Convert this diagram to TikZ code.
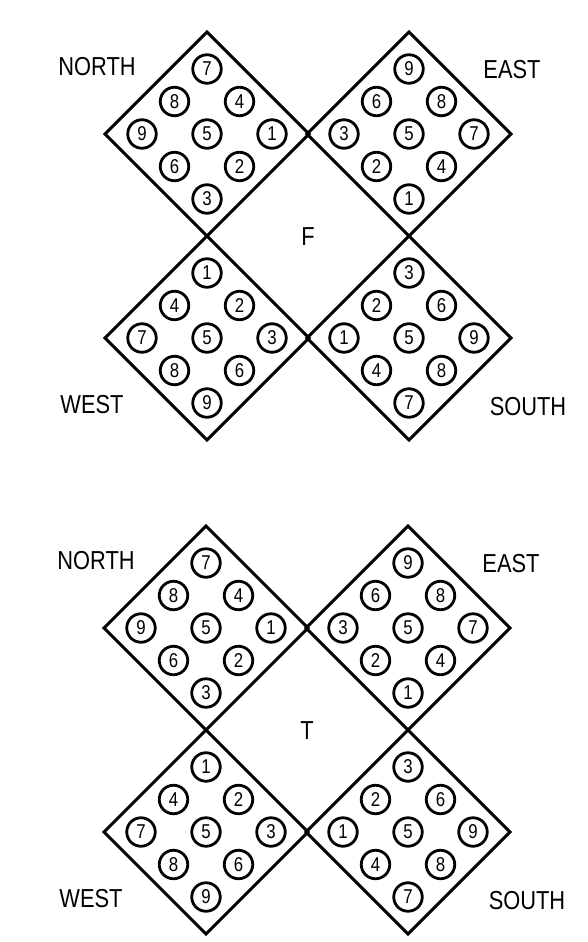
\documentclass[tikz,border=0pt]{standalone}
\usepackage{fontspec}
\setmainfont{Liberation Sans}[FakeStretch=0.84]
\usepackage{tikz}
\tikzset{
	ball/.style={circle,draw,line width=2.8pt,minimum size=28.5pt,inner sep=0pt,font=\fontsize{20}{20}\selectfont},
	sidelabel/.style={inner sep=0pt,font=\fontsize{26}{26}\selectfont},
	plate/.style={draw,line width=3pt,line join=miter}
}

\begin{document}
\begin{tikzpicture}[x=1pt,y=-1pt]
				\useasboundingbox (0,0) rectangle (588,942);
				\pgfmathsetmacro{\half}{102}
				\pgfmathsetmacro{\stp}{32.5}
				% two groups: F on top, T below
				\foreach \g/\gx/\gy in {F/0/0,T/-1/494}{
					% plates: centre, then digit = a + b*row + k*col
					\foreach \p/\px/\py/\a/\b/\k in {N/207/134/7/1/-3,E/409/134/9/-3/-1,W/207/338/1/3/1,S/409/338/3/-1/3}{
						\pgfmathsetmacro{\cx}{\gx+\px}
						\pgfmathsetmacro{\cy}{\gy+\py}
						\draw[plate] (\cx,\cy-\half) -- (\cx+\half,\cy) -- (\cx,\cy+\half) -- (\cx-\half,\cy) -- cycle;
						% balls
						\foreach \row in {0,1,2}{
							\foreach \col in {0,1,2}{
								\pgfmathtruncatemacro{\d}{\a+\b*\row+\k*\col}
								\pgfmathsetmacro{\bx}{\cx+(\col-\row)*\stp}
								\pgfmathsetmacro{\by}{\cy+(\col+\row-2)*\stp}
								\node[ball] (\g-\p-\d) at (\bx,\by) {\d};
							}
						}
					}
					% labels
					\node[sidelabel] (\g-north) at (\gx+97,\gy+67) {NORTH};
					\node[sidelabel] (\g-east) at (\gx+512,\gy+70) {EAST};
					\node[sidelabel] (\g-west) at (\gx+92,\gy+405) {WEST};
					\node[sidelabel] (\g-south) at (\gx+528,\gy+407) {SOUTH};
					\node[sidelabel] (\g-mid) at (\gx+308,\gy+237) {\g};
				}
			\end{tikzpicture}
\end{document}
